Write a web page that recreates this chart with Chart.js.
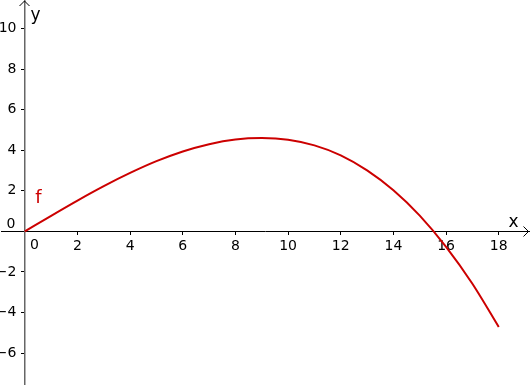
<!DOCTYPE html>
<html>
<head>
<meta charset="utf-8">
<script src="https://cdn.jsdelivr.net/npm/chart.js@4/dist/chart.umd.min.js"></script>
<style>
  body { margin: 0; background: #fff; }
  #wrap { width: 530px; height: 385px; }
</style>
</head>
<body>
<div id="wrap"><canvas id="plot" width="530" height="385"></canvas></div>
<script>
// function f, one point per unit of x
const xValues = [0, 1, 2, 3, 4, 5, 6, 7, 8, 9, 10, 11, 12, 13, 14, 15, 16, 17, 18];
const fValues = [0, 0.77, 1.52, 2.23, 2.88, 3.46, 3.94, 4.30, 4.53, 4.60, 4.52, 4.24, 3.75, 3.01, 2.03, 0.78, -0.76, -2.58, -4.71];

const xTicks = [0, 2, 4, 6, 8, 10, 12, 14, 16, 18];
const yTicks = [-6, -4, -2, 0, 2, 4, 6, 8, 10];

// where the origin sits and how many pixels one unit takes
const X0 = 24.8, PX = 26.33;
const Y0 = 231.4, PY = 20.29;

const tickFont = { family: "DejaVu Sans", size: 14 };
const red = "#cc0000";

const noPadding = s => {
  s.paddingTop = 0; s.paddingBottom = 0; s.paddingLeft = 0; s.paddingRight = 0;
};
const align = p => Math.round(p - 0.5) + 0.5;

// arrows, axis names, y tick labels, origin labels and the curve name
const extras = {
  id: "extras",
  afterDraw(chart) {
    const c = chart.ctx;
    const xs = chart.scales.x, ys = chart.scales.y;
    const ox = align(xs.getPixelForValue(0));
    const oy = align(ys.getPixelForValue(0));
    c.save();
    c.strokeStyle = "#000";
    c.lineWidth = 1;
    c.beginPath();
    const right = chart.width - 1.5;
    c.moveTo(right - 5, oy - 5);
    c.lineTo(right, oy);
    c.lineTo(right - 5, oy + 5);
    c.moveTo(ox - 5, 6);
    c.lineTo(ox, 1);
    c.lineTo(ox + 5, 6);
    c.stroke();

    c.fillStyle = "#000";
    c.font = "14px 'DejaVu Sans'";
    c.textAlign = "right";
    c.textBaseline = "middle";
    ys.ticks.forEach(t => {
      if (t.value === 0) return;
      c.fillText(String(t.value).replace("-", "\u2212"), ox - 8, ys.getPixelForValue(t.value));
    });
    c.fillText("0", ox - 9, oy - 7);
    c.textAlign = "center";
    c.textBaseline = "top";
    c.fillText("0", ox + 10, oy + 7);

    c.font = "17px 'DejaVu Sans'";
    c.textBaseline = "alphabetic";
    c.fillText("x", right - 15, oy - 5);
    c.fillText("y", ox + 11, 20);

    c.fillStyle = red;
    c.font = "18px 'DejaVu Sans'";
    c.fillText("f", xs.getPixelForValue(0.52), ys.getPixelForValue(1.4));
    c.restore();
  }
};

const chart = new Chart(document.getElementById("plot"), {
  type: "line",
  data: {
    datasets: [{
      label: "f",
      data: xValues.map((x, i) => ({ x: x, y: fValues[i] })),
      borderColor: red,
      borderWidth: 2,
      pointRadius: 0,
      cubicInterpolationMode: "monotone",
      fill: false
    }]
  },
  options: {
    responsive: false,
    animation: false,
    layout: { padding: 0 },
    plugins: { legend: { display: false }, tooltip: { enabled: false } },
    scales: {
      x: {
        type: "linear",
        position: { y: 0 },
        min: -0.95,
        max: 19.2,
        afterBuildTicks: s => { s.ticks = xTicks.map(v => ({ value: v })); },
        afterFit: noPadding,
        ticks: {
          color: "#000",
          font: tickFont,
          padding: 4,
          maxRotation: 0,
          autoSkip: false,
          callback: v => (v === 0 ? "" : String(v))
        },
        grid: { drawOnChartArea: false, tickLength: 3, color: "#000" },
        border: { color: "#000", width: 1 }
      },
      y: {
        type: "linear",
        position: { x: 0 },
        min: -7.6,
        max: 11.4,
        afterBuildTicks: s => { s.ticks = yTicks.map(v => ({ value: v })); },
        afterFit: noPadding,
        ticks: { display: false },
        grid: { drawOnChartArea: false, tickLength: 3, color: "#000" },
        border: { color: "#666", width: 1.5 }
      }
    }
  },
  plugins: [extras]
});

// fit the ranges to the area the layout gave, so the origin and unit size match
for (let i = 0; i < 2; i++) {
  const area = chart.chartArea;
  chart.options.scales.x.min = (area.left - X0) / PX;
  chart.options.scales.x.max = (area.right - X0) / PX;
  chart.options.scales.y.min = (Y0 - area.bottom) / PY;
  chart.options.scales.y.max = (Y0 - area.top) / PY;
  chart.update();
}
</script>
</body>
</html>
